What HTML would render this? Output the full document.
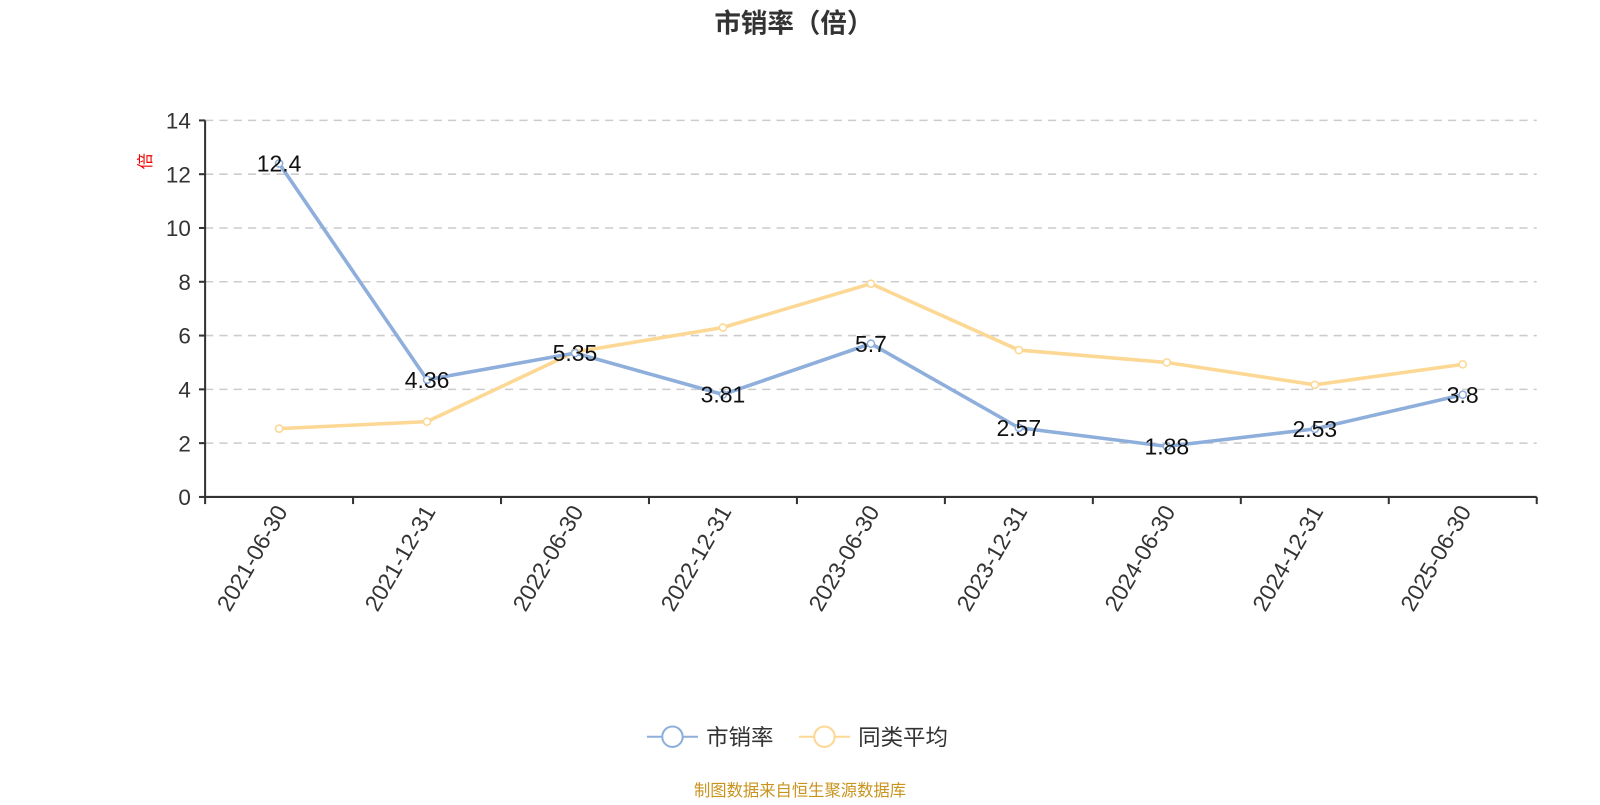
<!DOCTYPE html>
<html><head><meta charset="utf-8"><style>
body{margin:0;background:#fff;width:1600px;height:800px;overflow:hidden;font-family:"Liberation Sans","Noto Sans CJK SC",sans-serif}
</style></head><body>
<svg width="1600" height="800" viewBox="0 0 1568 784" xmlns="http://www.w3.org/2000/svg" font-family="Liberation Sans, Noto Sans CJK SC, sans-serif">
<text x="778" y="32" text-anchor="middle" font-size="26" font-weight="bold" fill="#333">市销率（倍）</text>
<text transform="translate(148,158) rotate(-90)" text-anchor="middle" font-size="16" fill="#e00">倍</text>
<g id="grid"></g><g id="axes"></g><g id="series"></g>
<g>
<g><line x1="634" y1="722" x2="684" y2="722" stroke="#8eaedb" stroke-width="2"/><circle cx="659" cy="722" r="10" fill="#fff" stroke="#8eaedb" stroke-width="2"/><text x="692" y="730" font-size="22" fill="#333">市销率</text></g>
<g><line x1="783" y1="722" x2="833" y2="722" stroke="#fcd894" stroke-width="2"/><circle cx="808" cy="722" r="10" fill="#fff" stroke="#fcd894" stroke-width="2"/><text x="841" y="730" font-size="22" fill="#333">同类平均</text></g>
</g>
<text x="784" y="780" text-anchor="middle" font-size="16" fill="#c8941e">制图数据来自恒生聚源数据库</text>
</svg>
<script>
const categories=["2021-06-30","2021-12-31","2022-06-30","2022-12-31","2023-06-30","2023-12-31","2024-06-30","2024-12-31","2025-06-30"];
const psrValues=[12.4,4.36,5.35,3.81,5.7,2.57,1.88,2.53,3.8];
const avgValues=[2.54,2.8,5.39,6.3,7.93,5.46,5.0,4.17,4.93];
const yTicks=[0,2,4,6,8,10,12,14];
const NS="http://www.w3.org/2000/svg";
const x0=201,x1=1506,y0=487,y1=118,yMax=14;
const bw=(x1-x0)/categories.length;
const xs=i=>x0+bw*(i+0.5);
const ys=v=>y0-(v/yMax)*(y0-y1);
function mk(t,a,p){const e=document.createElementNS(NS,t);for(const k in a)e.setAttribute(k,a[k]);p.appendChild(e);return e;}
const grid=document.getElementById('grid'),axes=document.getElementById('axes'),ser=document.getElementById('series');
yTicks.forEach(v=>{
 if(v>0){const g=mk('line',{x1:x0,x2:x1,y1:ys(v),y2:ys(v),stroke:'#ccc','stroke-width':1.5,'stroke-dasharray':'8,6'},grid);
 
 }
 const tk=mk('line',{x1:x0-6,x2:x0,y1:ys(v),y2:ys(v),stroke:'#333','stroke-width':2},axes);
 
 
 const t=mk('text',{x:x0-14,y:ys(v)+8,'text-anchor':'end','font-size':22,fill:'#333'},axes);t.textContent=v;
 
 
});
const ya=mk('line',{x1:x0,x2:x0,y1:y1,y2:y0,stroke:'#333','stroke-width':2},axes);


const xa=mk('line',{x1:x0,x2:x1,y1:y0,y2:y0,stroke:'#333','stroke-width':2},axes);


for(let i=0;i<=categories.length;i++){const l=mk('line',{x1:x0+bw*i,x2:x0+bw*i,y1:y0,y2:y0+7,stroke:'#333','stroke-width':2},axes);
 
 }
categories.forEach((c,i)=>{const t=mk('text',{transform:`translate(${xs(i)+9},${y0+14}) rotate(-60)`,'text-anchor':'end','font-size':22.5,fill:'#333'},axes);t.textContent=c;
 
 });
function series(vals,color,name,labels){
 const p=mk('polyline',{points:vals.map((v,i)=>xs(i)+','+ys(v)).join(' '),fill:'none',stroke:color,'stroke-width':3.5},ser);
 
 
 vals.forEach((v,i)=>{const c=mk('circle',{cx:xs(i),cy:ys(v),r:3.5,fill:'#fff',stroke:color,'stroke-width':1.5},ser);
  
  
  if(labels){const t=mk('text',{x:xs(i),y:ys(v)+8,'text-anchor':'middle','font-size':22.5,fill:'#111'},ser);t.textContent=v;
  
  }});
}
series(avgValues,'#fcd894','avg',false);
series(psrValues,'#8eaedb','psr',true);
</script>
</body></html>
